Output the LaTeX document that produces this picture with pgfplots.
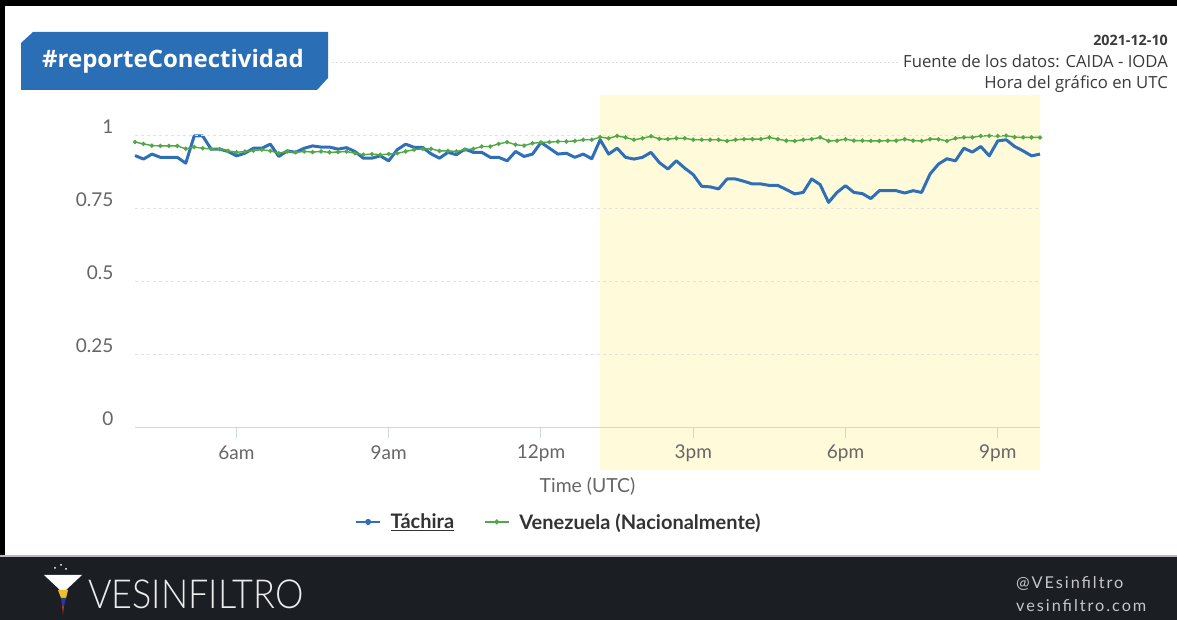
\documentclass[border=0pt]{standalone}
\usepackage{pgfplots}
\pgfplotsset{compat=1.18}
\usepackage{pgfplotstable}
\usepackage{fontspec}
\setmainfont{Lato}
\newfontfamily\opensans{Open Sans}
\newfontfamily\spaced{Lato}[LetterSpace=12]
\IfFontExistsTF{Lato Light}{\newfontfamily\logofont{Lato Light}}{\newfontfamily\logofont{Lato}}
\definecolor{tach}{RGB}{47,111,183}
\definecolor{ven}{RGB}{80,168,70}
\definecolor{bandcol}{RGB}{254,250,218}
\definecolor{axiscol}{RGB}{204,214,235}
\definecolor{gridcol}{RGB}{226,226,226}
\definecolor{labcol}{RGB}{102,102,102}
\definecolor{legcol}{RGB}{51,51,51}
\definecolor{badge}{RGB}{42,110,182}
\definecolor{footcol}{RGB}{27,30,34}
\definecolor{toptext}{RGB}{58,58,58}
\definecolor{logoy}{RGB}{240,190,40}
\definecolor{logob}{RGB}{40,60,150}
\definecolor{logor}{RGB}{200,40,40}

\pgfplotstableread{
t b v
240 0.931 0.977
250 0.919 0.971
260 0.936 0.965
270 0.925 0.964
280 0.925 0.964
290 0.925 0.964
300 0.905 0.954
310 0.998 0.960
320 0.998 0.956
330 0.953 0.954
340 0.953 0.953
350 0.945 0.947
360 0.930 0.942
370 0.939 0.945
380 0.956 0.948
390 0.956 0.951
400 0.970 0.947
410 0.928 0.939
420 0.947 0.945
430 0.942 0.942
440 0.956 0.945
450 0.964 0.943
460 0.960 0.945
470 0.960 0.942
480 0.953 0.943
490 0.958 0.945
500 0.945 0.939
510 0.922 0.934
520 0.922 0.936
530 0.930 0.934
540 0.913 0.936
550 0.951 0.939
560 0.970 0.945
570 0.959 0.951
580 0.959 0.954
590 0.937 0.954
600 0.922 0.947
610 0.942 0.947
620 0.934 0.945
630 0.953 0.951
640 0.942 0.954
650 0.942 0.962
660 0.925 0.962
670 0.925 0.971
680 0.913 0.977
690 0.945 0.968
700 0.928 0.965
710 0.936 0.973
720 0.976 0.976
730 0.956 0.977
740 0.936 0.979
750 0.939 0.979
760 0.925 0.981
770 0.936 0.985
780 0.920 0.985
790 0.985 0.994
800 0.936 0.990
810 0.956 0.998
820 0.925 0.993
830 0.919 0.985
840 0.925 0.990
850 0.942 0.997
860 0.907 0.988
870 0.885 0.987
880 0.913 0.990
890 0.888 0.990
900 0.866 0.985
910 0.826 0.985
920 0.824 0.985
930 0.817 0.985
940 0.851 0.981
950 0.851 0.985
960 0.843 0.987
970 0.834 0.987
980 0.834 0.987
990 0.829 0.993
1000 0.829 0.987
1010 0.815 0.982
1020 0.800 0.981
1030 0.805 0.985
1040 0.851 0.987
1050 0.832 0.993
1060 0.771 0.981
1070 0.805 0.982
1080 0.828 0.987
1090 0.805 0.982
1100 0.801 0.982
1110 0.784 0.981
1120 0.811 0.981
1130 0.811 0.982
1140 0.811 0.982
1150 0.803 0.987
1160 0.811 0.982
1170 0.805 0.981
1180 0.868 0.987
1190 0.902 0.987
1200 0.920 0.981
1210 0.913 0.990
1220 0.956 0.993
1230 0.943 0.993
1240 0.962 0.998
1250 0.930 0.999
1260 0.981 0.998
1270 0.985 0.999
1280 0.962 0.994
1290 0.947 0.993
1300 0.930 0.993
1310 0.936 0.993
}\datatable

\begin{document}
\begin{tikzpicture}[x=1pt,y=1pt]
\path[use as bounding box] (0,0) rectangle (1177,620);
% backgrounds
\fill[black] (0,0) rectangle (1177,620);
\fill[white] (5,63) rectangle (1177,614);
\fill[footcol] (0,0) rectangle (1177,63);
\fill[gray!55] (0,63) rectangle (1177,64.5);
% badge
\fill[badge] (33,588) -- (328,588) -- (328,542) -- (317,530) -- (21,530) -- (21,577) -- cycle;
\node[text=white, font=\opensans\bfseries\fontsize{24}{27}\selectfont] at (173,559) {\#reporteConectividad};
\draw[gray!25, line width=0.8pt, dash pattern=on 2pt off 2pt] (332,558) -- (900,558);
% top right
\node[anchor=east, inner sep=0pt, text=toptext, font=\opensans\bfseries\fontsize{14.3}{18}\selectfont] at (1168,580) {2021-12-10};
\node[anchor=east, inner sep=0pt, text=toptext, font=\opensans\fontsize{16.7}{18}\selectfont] at (1168,559) {Fuente de los datos: CAIDA - IODA};
\node[anchor=east, inner sep=0pt, text=toptext, font=\opensans\fontsize{16.7}{18}\selectfont] at (1168,536) {Hora del gráfico en UTC};

\begin{axis}[
  at={(135pt,192pt)}, anchor=south west,
  scale only axis, width=905pt, height=333pt,
  xmin=240, xmax=1310, ymin=0, ymax=1.138,
  axis on top, clip=false,
  axis x line*=bottom, axis y line*=left,
  x axis line style={draw=axiscol, line width=1pt, -},
  y axis line style={draw=none},
  xtick={360,540,720,900,1080,1260},
  xticklabels={6am,9am,12pm,3pm,6pm,9pm},
  ytick={0,0.25,0.5,0.75,1},
  yticklabels={0,0.25,0.5,0.75,1},
  xtick style={draw=axiscol, line width=1pt},
  ytick style={draw=none},
  tick align=outside, major tick length=10pt,
  ymajorgrids,
  grid style={draw=gridcol, line width=1pt, dash pattern=on 3pt off 3pt},
  tick label style={font=\fontsize{19}{21}\selectfont, text=labcol},
  xticklabel style={anchor=center, yshift=-15pt},
  yticklabel style={anchor=east, xshift=-8pt, yshift=9pt},
  xlabel={Time (UTC)},
  xlabel style={font=\fontsize{19.4}{22}\selectfont, text=labcol, at={(axis description cs:0.5,-0.174)}, anchor=center},
  legend style={at={(0.4685,-0.282)}, anchor=center, draw=none, fill=none,
    font=\fontsize{20}{23}\selectfont\bfseries, text=legcol,
    /tikz/every odd column/.append style={column sep=8pt},
    /tikz/every even column/.append style={column sep=28pt}},
  legend columns=2, legend cell align=left,
]
\addplot[draw=none, fill=bandcol, forget plot] coordinates {(790,-0.1436) (1310,-0.1436) (1310,1.138) (790,1.138) (790,-0.1436)};
\addplot[tach, line width=3pt, line join=round, no marks,
  legend image code/.code={\draw[tach, line width=1.2pt] (0pt,0pt) -- (24pt,0pt); \fill[tach] (12pt,0pt) circle (1.8pt);}]
  table[x=t, y=b] {\datatable};
\addlegendentry{\underline{Táchira}}
\addplot[ven, line width=1.4pt, mark=*, mark size=1.4pt, mark options={draw=ven, fill=ven},
  legend image code/.code={\draw[ven, line width=1.2pt] (0pt,0pt) -- (24pt,0pt); \fill[ven] (12pt,0pt) circle (1.8pt);}]
  table[x=t, y=v] {\datatable};
\addlegendentry{Venezuela (Nacionalmente)}
\end{axis}

% footer logo
\fill[white] (44,45) -- (82,45) -- (66,30) -- (60,30) -- cycle;
\fill[logoy] (58,30) -- (68,30) -- (66,22) -- (61,22) -- cycle;
\fill[logob] (61,22) -- (66,22) -- (64,14) -- (62,14) -- cycle;
\fill[logor] (62,14) -- (64,14) -- (63,5) -- cycle;
\fill[white] (55,52) circle (1pt); \fill[white] (61,55) circle (1pt); \fill[white] (66,51) circle (1pt);
\node[anchor=west, text=gray!15, font=\logofont\fontsize{40}{44}\selectfont, xscale=0.9, inner sep=0pt] at (88,26) {VESINFILTRO};
\node[anchor=west, text=gray!45, font=\spaced\fontsize{16.3}{18}\selectfont, inner sep=0pt] at (1016,37) {@VEsinfiltro};
\node[anchor=west, text=gray!45, font=\spaced\fontsize{16.3}{18}\selectfont, inner sep=0pt] at (1016,14) {vesinfiltro.com};
\end{tikzpicture}
\end{document}
